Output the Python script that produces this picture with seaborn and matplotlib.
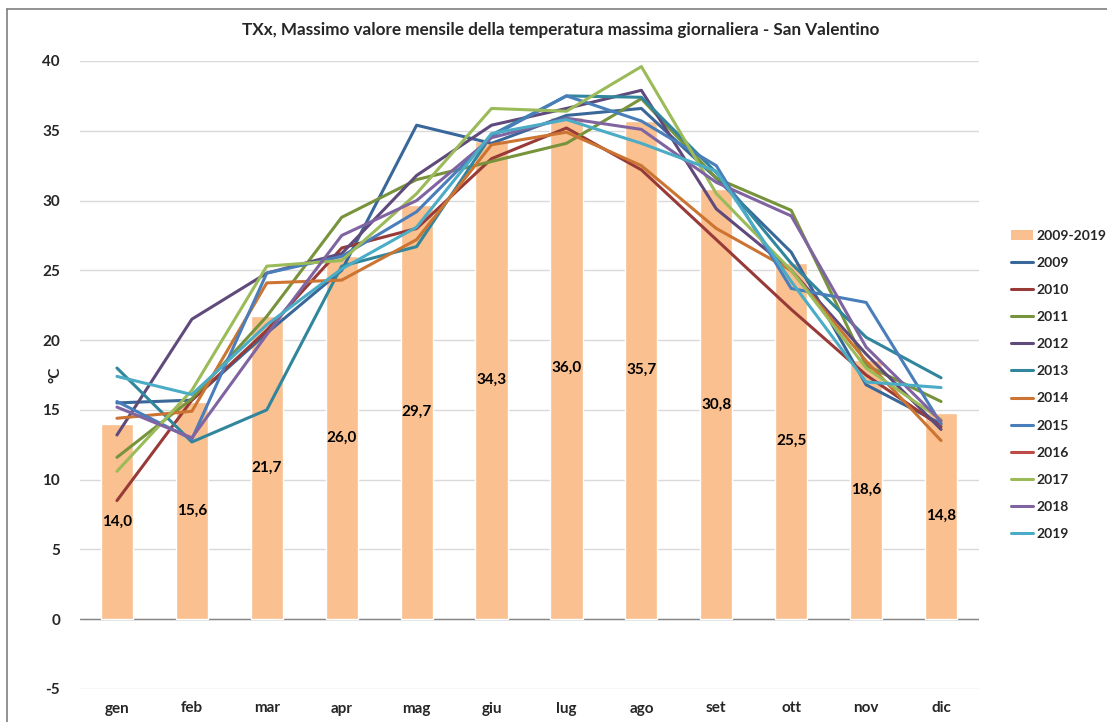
"""TXx monthly maximum temperature chart - San Valentino."""

import numpy as np
import pandas as pd
import matplotlib
matplotlib.use('Agg')
import matplotlib.pyplot as plt
from matplotlib.lines import Line2D
from matplotlib.patches import Patch
import seaborn as sns

MONTHS = ['gen', 'feb', 'mar', 'apr', 'mag', 'giu',
          'lug', 'ago', 'set', 'ott', 'nov', 'dic']

# mean of the period 2009-2019 (bars)
mean_2009_2019 = [14.0, 15.6, 21.7, 26.0, 29.7, 34.3, 36.0, 35.7, 30.8, 25.5, 18.6, 14.8]

# single years (lines)
y2009 = [15.5, 15.7, 20.5, 25.0, 35.4, 34.1, 36.1, 36.6, 31.6, 26.3, 16.8, 14.0]
y2010 = [8.5, 15.7, 20.7, 26.6, 28.0, 33.0, 35.2, 32.2, 27.2, 22.2, 17.5, 13.8]
y2011 = [11.6, 15.8, 21.7, 28.8, 31.5, 32.8, 34.1, 37.3, 31.6, 29.3, 18.2, 15.6]
y2012 = [13.2, 21.5, 24.8, 26.2, 31.8, 35.4, 36.6, 37.9, 29.4, 25.0, 19.0, 13.6]
y2013 = [18.0, 12.7, 15.0, 25.3, 26.7, 34.7, 37.5, 37.4, 32.0, 25.5, 20.2, 17.3]
y2014 = [14.4, 14.9, 24.1, 24.3, 27.2, 34.0, 34.9, 32.5, 28.0, 25.0, 18.5, 12.8]
y2015 = [15.6, 12.9, 24.8, 26.0, 29.2, 34.6, 37.5, 35.7, 32.5, 23.7, 22.7, 14.0]
y2016 = [np.nan] * 12
y2017 = [10.6, 16.4, 25.3, 25.7, 30.5, 36.6, 36.4, 39.6, 30.5, 25.0, 18.0, 14.3]
y2018 = [15.2, 13.0, 20.4, 27.5, 30.0, 34.5, 35.9, 35.1, 31.3, 28.9, 19.5, 14.2]
y2019 = [17.4, 16.1, 21.1, 25.1, 28.1, 34.8, 35.8, 34.1, 32.1, 24.2, 17.0, 16.6]

YEARS = ['2009', '2010', '2011', '2012', '2013', '2014',
         '2015', '2016', '2017', '2018', '2019']
SERIES = [y2009, y2010, y2011, y2012, y2013, y2014,
          y2015, y2016, y2017, y2018, y2019]

COLORS = ['#3A679A', '#983B38', '#77933C', '#604A7B', '#31859C', '#CC7431',
          '#4A7EBB', '#BE4B48', '#9BBB59', '#8064A2', '#4BACC6']
BAR_COLOR = '#FAC090'

sns.set_theme(style='white')
plt.rcParams['font.family'] = ['Lato', 'DejaVu Sans']
plt.rcParams['font.weight'] = 'bold'
plt.rcParams['axes.unicode_minus'] = False

bars = pd.DataFrame({'x': np.arange(12), 'mese': MONTHS, 'val': mean_2009_2019})
lines = pd.DataFrame({
    'x': np.tile(np.arange(12), len(YEARS)),
    'anno': np.repeat(YEARS, 12),
    'val': np.concatenate([np.asarray(s, dtype=float) for s in SERIES]),
})
palette = dict(zip(YEARS, COLORS))

fig = plt.figure(figsize=(11.07, 7.22), dpi=100)
ax = fig.add_axes([79.5 / 1107, 1 - 689 / 722, 899 / 1107, 628 / 722])

# bars for the 2009-2019 reference
sns.barplot(data=bars, x='x', y='val', color=BAR_COLOR, saturation=1,
            width=0.43, ax=ax, zorder=2)
for x, v in zip(bars['x'], bars['val']):
    ax.text(x, v / 2, f'{v:.1f}'.replace('.', ','), ha='center', va='center',
            fontsize=11, fontweight='bold', color='black', zorder=5)

# yearly lines
sns.lineplot(data=lines.dropna(), x='x', y='val', hue='anno', palette=palette,
             linewidth=2.2, legend=False, ax=ax, zorder=3)

ax.set_xlim(-0.5, 11.5)
ax.set_ylim(-5, 40)
ax.set_yticks(np.arange(-5, 41, 5))
ax.set_xticks(np.arange(12))
ax.set_xticklabels(MONTHS)
ax.set_xlabel('')
ax.set_ylabel('°C', fontsize=11, fontweight='bold')
ax.yaxis.set_label_coords(-0.019, 0.5)
ax.tick_params(axis='both', length=0, labelsize=11)
ax.tick_params(axis='y', pad=14)
ax.tick_params(axis='x', pad=9)
for lbl in ax.get_xticklabels() + ax.get_yticklabels():
    lbl.set_fontweight('bold')

ax.grid(axis='y', color='#D9D9D9', linewidth=1, zorder=0)
ax.set_axisbelow(True)
ax.axhline(0, color='#868686', linewidth=1, zorder=1)
for side in ax.spines.values():
    side.set_visible(False)

ax.set_title('TXx, Massimo valore mensile della temperatura massima giornaliera - San Valentino',
             fontsize=12.3, fontweight='bold', pad=19, x=0.535)

# legend: bars first, then one line per year (2016 has no data)
handles = [Patch(facecolor=BAR_COLOR, edgecolor='none')]
handles += [Line2D([0], [0], color=c, linewidth=2.2) for c in COLORS]
labels = ['2009-2019'] + YEARS
fig.legend(handles, labels, loc='center left', bbox_to_anchor=(0.902, 0.467),
           frameon=False, labelspacing=1.09, handlelength=1.6,
           handletextpad=0.2, prop={'weight': 'bold', 'size': 10})

# chart frame (left and top edges visible in the crop)
fig.add_artist(Line2D([7 / 1107, 7 / 1107], [0, 1 - 9 / 722], color='#7F7F7F',
                      linewidth=1.2, transform=fig.transFigure))
fig.add_artist(Line2D([7 / 1107, 1], [1 - 9 / 722, 1 - 9 / 722], color='#7F7F7F',
                      linewidth=1.2, transform=fig.transFigure))

fig.savefig('out.png', dpi=100)
plt.close(fig)
